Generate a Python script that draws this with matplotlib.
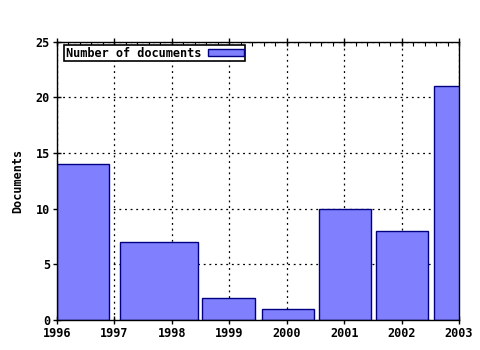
import matplotlib
matplotlib.use("Agg")
import matplotlib.pyplot as plt
from matplotlib.ticker import MultipleLocator, AutoMinorLocator

years = [1996, 1997, 1998, 1999, 2000, 2001, 2002, 2003]
bar_left = [1996.0, 1997.10, 1998.53, 1999.57, 2000.56, 2001.56, 2002.56]
bar_right = [1996.91, 1998.46, 1999.45, 2000.48, 2001.47, 2002.46, 2003.47]
documents = [14, 7, 2, 1, 10, 8, 21]

plt.rcParams['font.family'] = ['DejaVu Sans Mono']
plt.rcParams['font.weight'] = 'bold'

fig = plt.figure(figsize=(4.8, 3.5), dpi=100)
ax = fig.add_axes([57/480, 30/350, (459-57)/480, (320-41.7)/350])

widths = [r - l for l, r in zip(bar_left, bar_right)]
ax.bar(bar_left, documents, width=widths, align='edge', color='#8080ff',
       edgecolor='#000080', linewidth=1.0, label='Number of documents', zorder=2)

ax.set_xlim(1996, 2003)
ax.set_ylim(0, 25)
ax.set_xticks(years)
ax.set_xticklabels([str(y) for y in years])
ax.yaxis.set_major_locator(MultipleLocator(5))
ax.xaxis.set_minor_locator(AutoMinorLocator(5))
ax.grid(True, which='major', linestyle=(0, (1.5, 3)), color='black', linewidth=0.9, zorder=0)
ax.set_axisbelow(True)

ax.tick_params(axis='both', which='major', direction='inout', length=6, width=1,
               labelsize=8.5, top=True, right=False, pad=2)
ax.tick_params(axis='x', which='minor', direction='in', length=3, width=0.8, top=True)
for lab in ax.get_xticklabels() + ax.get_yticklabels():
    lab.set_fontweight('bold')

for s in ax.spines.values():
    s.set_color('black')
    s.set_linewidth(1)

ax.set_ylabel('Documents', fontsize=8.5, fontweight='bold', labelpad=8)

leg = ax.legend(loc='upper left', bbox_to_anchor=(0.012, 0.995), fontsize=8.6,
                frameon=True, fancybox=False, edgecolor='black', framealpha=1,
                borderpad=0.12, handlelength=3.0, handleheight=0.5,
                markerfirst=False, borderaxespad=0.2, handletextpad=0.6)
leg.get_frame().set_linewidth(1.2)
for t in leg.get_texts():
    t.set_fontweight('bold')

fig.savefig('out.png', dpi=100)
